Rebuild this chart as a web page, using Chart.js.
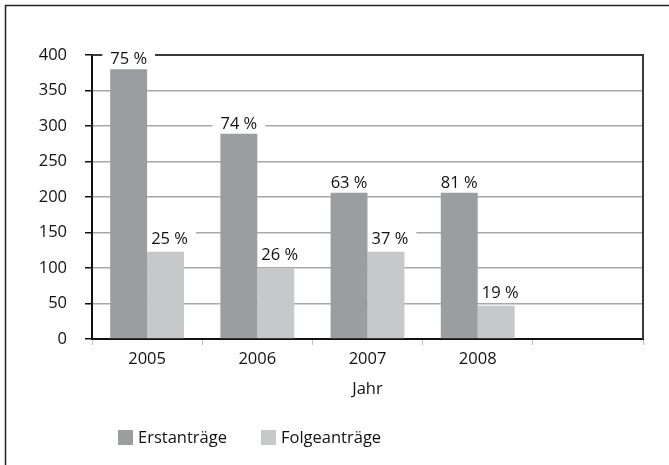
<!DOCTYPE html>
<html>
<head>
<meta charset="utf-8">
<script src="https://cdn.jsdelivr.net/npm/chart.js@4/dist/chart.umd.min.js"></script>
<style>
html,body{margin:0;padding:0;background:#fff;}
canvas{display:block;}
</style>
</head>
<body>
<canvas id="c" width="669" height="465"></canvas>
<script>
const categories = ['2005', '2006', '2007', '2008', ''];
const erstantraege = [380, 289, 206, 206, null];
const folgeantraege = [123, 100, 123, 47, null];
const erstPct = ['75 %', '74 %', '63 %', '81 %', ''];
const folgePct = ['25 %', '26 %', '37 %', '19 %', ''];
const seriesNames = ['Erstanträge', 'Folgeanträge'];
const axisTitle = 'Jahr';

const FONT = 'Open Sans';
const colErst = '#9c9d9f';
const colFolge = '#c7c8ca';

function eachLabel(chart, fn) {
  const labels = [erstPct, folgePct];
  chart.data.datasets.forEach((ds, di) => {
    const meta = chart.getDatasetMeta(di);
    meta.data.forEach((bar, i) => {
      const txt = labels[di][i];
      if (!txt || ds.data[i] == null) return;
      const x = bar.x + (di === 1 ? 4 : 0);
      const y = bar.y - (di === 1 ? 8 : 5);
      fn(txt, x, y);
    });
  });
}

const framePlugin = {
  id: 'frame',
  beforeDraw(chart) {
    const ctx = chart.ctx;
    ctx.save();
    ctx.fillStyle = '#fff';
    ctx.fillRect(0, 0, chart.width, chart.height);
    ctx.strokeStyle = '#222';
    ctx.lineWidth = 1.5;
    ctx.beginPath();
    ctx.moveTo(5.5, chart.height + 2);
    ctx.lineTo(5.5, 5.5);
    ctx.lineTo(chart.width + 2, 5.5);
    ctx.stroke();
    ctx.restore();
  },
  beforeDatasetsDraw(chart) {
    const a = chart.chartArea;
    const ctx = chart.ctx;
    ctx.save();
    ctx.strokeStyle = '#3a3a3a';
    ctx.lineWidth = 2;
    ctx.beginPath();
    ctx.moveTo(a.left, a.top);
    ctx.lineTo(a.right, a.top);
    ctx.lineTo(a.right, a.bottom);
    ctx.stroke();
    ctx.font = '16.5px "' + FONT + '"';
    ctx.fillStyle = '#fff';
    eachLabel(chart, (txt, x, y) => {
      const w = ctx.measureText(txt).width;
      ctx.fillRect(x - w / 2 - 8, y - 12, w + 16, 12);
    });
    ctx.restore();
  },
  afterDatasetsDraw(chart) {
    const ctx = chart.ctx;
    ctx.save();
    ctx.font = '16.5px "' + FONT + '"';
    ctx.textAlign = 'center';
    ctx.textBaseline = 'alphabetic';
    ctx.fillStyle = '#111';
    eachLabel(chart, (txt, x, y) => ctx.fillText(txt, x, y));
    ctx.restore();
  },
  afterDraw(chart) {
    const ctx = chart.ctx;
    ctx.save();
    ctx.font = '16.5px "' + FONT + '"';
    ctx.textBaseline = 'middle';
    ctx.textAlign = 'left';
    const y = 437;
    const items = [
      { x: 118, color: colErst, text: seriesNames[0] },
      { x: 261, color: colFolge, text: seriesNames[1] }
    ];
    items.forEach(it => {
      ctx.fillStyle = it.color;
      ctx.fillRect(it.x, y - 7, 15, 15);
      ctx.fillStyle = '#111';
      ctx.fillText(it.text, it.x + 20, y + 1);
    });
    ctx.restore();
  }
};

new Chart(document.getElementById('c'), {
  type: 'bar',
  data: {
    labels: categories,
    datasets: [
      { label: seriesNames[0], data: erstantraege, backgroundColor: colErst, borderWidth: 0 },
      { label: seriesNames[1], data: folgeantraege, backgroundColor: colFolge, borderWidth: 0 }
    ]
  },
  options: {
    responsive: false,
    animation: false,
    devicePixelRatio: 1,
    categoryPercentage: 0.67,
    barPercentage: 1.0,
    layout: { padding: { top: 55, right: 26, bottom: 66, left: 0 } },
    plugins: {
      legend: { display: false },
      tooltip: { enabled: false }
    },
    scales: {
      x: {
        afterFit(scale) { scale.height = 60; },
        grid: { drawOnChartArea: false, drawTicks: true, tickLength: 6, tickColor: '#c0c0c0', offset: true },
        border: { color: '#111', width: 2 },
        ticks: { color: '#111', font: { family: FONT, size: 16.5 }, padding: 4 },
        title: { display: true, text: axisTitle, color: '#111', font: { family: FONT, size: 16.5 }, padding: { top: 2, bottom: 0 } }
      },
      y: {
        min: 0, max: 400,
        afterFit(scale) { scale.width = 92; },
        grid: {
          color: ctx => (ctx.tick && ctx.tick.value === 0) ? 'rgba(0,0,0,0)' : '#a8a8a8',
          lineWidth: 1.5,
          drawTicks: true, tickLength: 7, tickColor: '#111'
        },
        border: { color: '#111', width: 2 },
        ticks: { stepSize: 50, color: '#111', font: { family: FONT, size: 16.5 }, padding: 18 }
      }
    }
  },
  plugins: [framePlugin]
});
</script>
</body>
</html>
